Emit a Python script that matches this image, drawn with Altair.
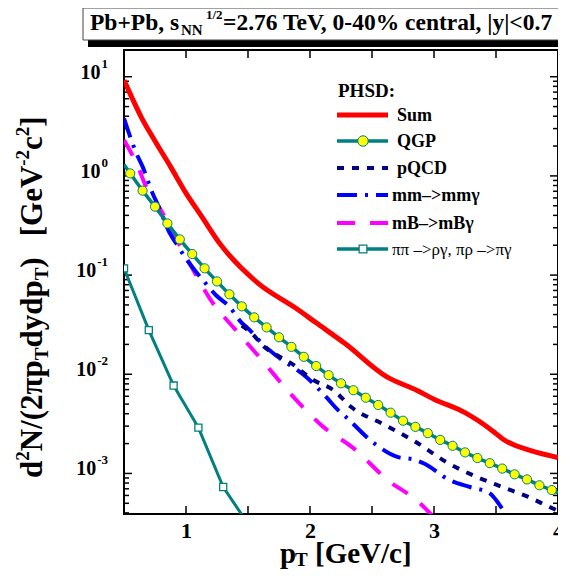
import altair as alt
import pandas as pd

SERIF = "Liberation Serif"
RED = "#ff0000"
TEAL = "#008080"
NAVY = "#000080"
BLUE = "#0000ff"
MAG = "#ff00ff"
YEL = "#ffff00"

# ---------------- data ----------------
sum_x = [0.5, 0.56, 0.64, 0.745, 0.875, 1.0, 1.13, 1.27, 1.58, 1.89, 2.05, 2.28,
         2.62, 2.86, 3.0, 3.25, 3.47, 3.56, 3.78, 4.0]
sum_y = [9.2, 6.3, 3.9, 2.3, 1.24, 0.67, 0.384, 0.21, 0.083, 0.046, 0.033, 0.0205,
         0.0094, 0.0069, 0.0056, 0.0041, 0.0027, 0.0022, 0.0017, 0.00145]

qgp_x = [0.5, 0.55, 0.65, 0.75, 0.85, 0.95, 1.05, 1.15, 1.25, 1.35, 1.45, 1.55, 1.65,
         1.75, 1.85, 1.95, 2.05, 2.15, 2.25, 2.35, 2.45, 2.55, 2.65, 2.75, 2.85, 2.95,
         3.05, 3.15, 3.25, 3.35, 3.45, 3.55, 3.65, 3.75, 3.85, 3.95, 4.0]
qgp_y = [1.3, 1.06, 0.71, 0.49, 0.332, 0.229, 0.163, 0.117, 0.0863, 0.064, 0.0484,
         0.0375, 0.0297, 0.0236, 0.0189, 0.015, 0.0121, 0.0098, 0.0081, 0.0069, 0.0058,
         0.0049, 0.0041, 0.0034, 0.00295, 0.00255, 0.00218, 0.0019, 0.00163, 0.00143,
         0.00127, 0.00112, 0.00098, 0.00087, 0.00076, 0.00068, 0.00064]

pqcd_x = [1.45, 1.53, 1.63, 1.76, 1.84, 2.03, 2.19, 2.33, 2.6, 2.86, 3.1, 3.33, 3.55,
          3.76, 3.93, 4.0]
pqcd_y = [0.031, 0.0259, 0.0189, 0.0149, 0.0131, 0.0087, 0.0069, 0.0047, 0.0031,
          0.00205, 0.0013, 0.00094, 0.00073, 0.00058, 0.00046, 0.00042]

mm_x = [0.5, 0.6, 0.65, 0.73, 0.78, 0.87, 0.93, 0.99, 1.08, 1.16, 1.24, 1.35, 1.44,
        1.5, 1.63, 1.74, 1.97, 2.13, 2.23, 2.29, 2.52, 2.71, 2.84, 2.92, 3.13, 3.29,
        3.45, 3.52, 3.57, 3.62]
mm_y = [3.8, 1.69, 1.24, 0.67, 0.49, 0.263, 0.2, 0.153, 0.108, 0.082, 0.063, 0.048,
        0.034, 0.029, 0.0195, 0.015, 0.0094, 0.0059, 0.0043, 0.0037, 0.0020, 0.00146,
        0.00138, 0.00126, 0.00085, 0.00073, 0.00063, 0.0005, 0.0004, 0.0003]

mb_x = [0.5, 0.6, 0.71, 0.76, 1.02, 1.2, 1.4, 1.6, 1.84, 2.1, 2.36, 2.62, 2.88, 3.0]
mb_y = [2.3, 1.34, 0.64, 0.53, 0.137, 0.056, 0.028, 0.0145, 0.0064, 0.0030, 0.00176,
        0.00087, 0.00051, 0.00036]

pipi_x = [0.5, 0.7, 0.9, 1.1, 1.3, 1.5]
pipi_y = [0.117, 0.0279, 0.0077, 0.0029, 0.00073, 0.00031]

x_tick_labels = [1, 2, 3, 4]
x_ticks = [1, 1.5, 2, 2.5, 3, 3.5]
y_decades = [10, 1, 0.1, 0.01, 0.001]
y_exponents = ["1", "0", "-1", "-2", "-3"]

legend_labels = ["Sum", "QGP", "pQCD", "mm\u2013>mm\u03b3", "mB\u2013>mB\u03b3",
                 "\u03c0\u03c0 \u2013>\u03c1\u03b3, \u03c0\u03c1 \u2013>\u03c0\u03b3"]

# ---------------- geometry ----------------
W, H = 434, 464
YMIN, YMAX = 3.9e-4, 18.6

xscale = alt.Scale(domain=[0.5, 4.0], nice=False, zero=False)
yscale = alt.Scale(type="log", domain=[YMIN, YMAX], nice=False)
xaxis = alt.Axis(values=x_tick_labels, format="d", labelFont=SERIF, labelFontWeight="bold",
                 labelFontSize=22, labelColor="black", labelPadding=6, labelFlush=False,
                 ticks=False, tickSize=0, domain=False, grid=False, title=None)


def X():
    return alt.X("x:Q", scale=xscale, axis=xaxis)


def Y():
    return alt.Y("y:Q", scale=yscale, axis=None)


def df(xs, ys):
    return pd.DataFrame({"x": xs, "y": ys})


def one():
    return pd.DataFrame({"k": [0]})


def txt(s, x, y, size, weight="bold", align="left", baseline="alphabetic", angle=0):
    return alt.Chart(one()).mark_text(
        text=s, font=SERIF, fontSize=size, fontWeight=weight, align=align,
        baseline=baseline, angle=angle, color="black"
    ).encode(x=alt.value(x), y=alt.value(y))


def hrule(x1, x2, y, color, width, dash=None):
    kw = dict(color=color, strokeWidth=width)
    if dash:
        kw["strokeDash"] = dash
    return alt.Chart(one()).mark_rule(**kw).encode(
        x=alt.value(x1), x2=alt.value(x2), y=alt.value(y))


def line(xs, ys, color, width, dash=None, interp="monotone"):
    kw = dict(color=color, strokeWidth=width, clip=True, interpolate=interp)
    if dash:
        kw["strokeDash"] = dash
    return alt.Chart(df(xs, ys)).mark_line(**kw).encode(x=X(), y=Y(), order="x:Q")


layers = []

# ---- ticks (inside) ----
minor = []
for e in range(-4, 2):
    for k in range(2, 10):
        v = k * 10.0 ** e
        if YMIN < v < YMAX:
            minor.append(v)
ydf_maj = pd.DataFrame({"y": y_decades})
ydf_min = pd.DataFrame({"y": minor})
for d, ln in ((ydf_maj, 8), (ydf_min, 5)):
    layers.append(alt.Chart(d).mark_rule(color="black", strokeWidth=1.5).encode(
        y=Y(), x=alt.value(0), x2=alt.value(ln)))
    layers.append(alt.Chart(d).mark_rule(color="black", strokeWidth=1.5).encode(
        y=Y(), x=alt.value(W), x2=alt.value(W - ln)))
xdf = pd.DataFrame({"x": x_ticks})
layers.append(alt.Chart(xdf).mark_rule(color="black", strokeWidth=1.5).encode(
    x=X(), y=alt.value(H), y2=alt.value(H - 8)))
layers.append(alt.Chart(xdf).mark_rule(color="black", strokeWidth=1.5).encode(
    x=X(), y=alt.value(0), y2=alt.value(8)))

# ---- curves ----
layers.append(line(pipi_x, pipi_y, TEAL, 3, interp="linear"))
layers.append(line(mb_x, mb_y, MAG, 4, [18, 16]))
layers.append(line(mm_x, mm_y, BLUE, 4, [20, 8, 3, 8]))
layers.append(line(pqcd_x, pqcd_y, NAVY, 4, [7, 8]))
layers.append(line(qgp_x, qgp_y, TEAL, 3.5))
layers.append(alt.Chart(df(qgp_x[1:-1], qgp_y[1:-1])).mark_point(
    shape="circle", filled=True, fill=YEL, stroke=TEAL, strokeWidth=1, size=85,
    opacity=1, fillOpacity=1, clip=True).encode(x=X(), y=Y()))
layers.append(alt.Chart(df(pipi_x, pipi_y)).mark_point(
    shape="square", filled=True, fill="white", stroke=TEAL, strokeWidth=1.3, size=50,
    opacity=1, fillOpacity=1, clip=True).encode(x=X(), y=Y()))
layers.append(line(sum_x, sum_y, RED, 5))

# ---- y tick labels (10^n) ----
for v, ex in zip(y_decades, y_exponents):
    ew = (0.5 * len(ex.replace("-", "")) + 0.333 * ex.count("-")) * 13
    d = pd.DataFrame({"y": [v]})
    layers.append(alt.Chart(d).mark_text(text="10", font=SERIF, fontSize=20, fontWeight="bold",
                                         align="right", baseline="alphabetic", dy=2,
                                         color="black").encode(y=Y(), x=alt.value(-17 - ew)))
    layers.append(alt.Chart(d).mark_text(text=ex, font=SERIF, fontSize=13, fontWeight="bold",
                                         align="left", baseline="alphabetic", dy=-9,
                                         color="black").encode(y=Y(), x=alt.value(-16 - ew)))

# ---- legend ----
LX1, LX2 = 213, 264
rows = [65, 91, 118, 145, 173, 199]
layers.append(txt("PHSD:", 214, 47, 19))
layers.append(hrule(LX1, LX2, rows[0], RED, 5))
layers.append(hrule(LX1, LX2, rows[1], TEAL, 3.5))
layers.append(alt.Chart(one()).mark_point(shape="circle", filled=True, fill=YEL, stroke=TEAL,
                                          strokeWidth=1, size=110, opacity=1).encode(
    x=alt.value(239), y=alt.value(rows[1])))
layers.append(hrule(LX1, LX2, rows[2], NAVY, 4, [7, 8]))
layers.append(hrule(LX1, LX2, rows[3], BLUE, 4, [20, 8, 3, 8]))
layers.append(hrule(LX1, LX2, rows[4], MAG, 4, [18, 15]))
layers.append(hrule(LX1, LX2, rows[5], TEAL, 3.5))
layers.append(alt.Chart(one()).mark_point(shape="square", filled=True, fill="white", stroke=TEAL,
                                          strokeWidth=1.3, size=60, opacity=1).encode(
    x=alt.value(239), y=alt.value(rows[5])))
for i, lab in enumerate(legend_labels):
    lx = 273 if i < 3 else 268
    if i < 5:
        layers.append(txt(lab, lx, rows[i] + 1, 18, baseline="middle"))
    else:
        layers.append(txt(lab, lx, rows[i] + 1, 17, weight="normal", baseline="middle"))

# ---- title box ----
layers.append(alt.Chart(one()).mark_rect(fill="black").encode(
    x=alt.value(-36), x2=alt.value(470), y=alt.value(-10), y2=alt.value(-3)))
layers.append(alt.Chart(one()).mark_rect(fill="white", stroke="#444444", strokeWidth=1).encode(
    x=alt.value(-41), x2=alt.value(470), y=alt.value(-42), y2=alt.value(-10)))
layers.append(txt("Pb+Pb, s", -34, -20, 23.5))
layers.append(txt("NN", 57, -15, 15))
layers.append(txt("1/2", 82, -31, 13))
layers.append(txt("=2.76 TeV, 0-40% central, |y|<0.7", 99, -20, 23.5))

# ---- x title ----
layers.append(txt("p", 156, 513, 29))
layers.append(txt("T", 171, 516, 19))
layers.append(txt("[GeV/c]", 191, 513, 29))

# ---- y title (rotated, pieces with sub/superscripts) ----
WID = {"d": .556, "N": .722, "/": .278, "(": .333, ")": .333, "2": .5, "\u03c0": .549,
       "p": .556, "y": .5, "[": .333, "]": .333, "G": .778, "e": .444, "V": .722,
       "-": .333, "c": .444, "T": .667}
F, f = 31, 19
BASE = -82
pieces = [("d", F, 0), ("2", f, 1), ("N/(2\u03c0p", F, 0), ("T", f, -1), ("dydp", F, 0),
          ("T", f, -1), (")", F, 0), (None, 21, 0), ("[GeV", F, 0), ("-2", f, 1),
          ("c", F, 0), ("2", f, 1), ("]", F, 0)]
pos = 428.0
for s, size, sh in pieces:
    if s is None:
        pos -= size
        continue
    xb = BASE - 13 if sh == 1 else (BASE + 6 if sh == -1 else BASE)
    layers.append(txt(s, xb, pos, size, angle=270))
    pos -= sum(WID.get(ch, .5) for ch in s) * size

chart = alt.layer(*layers).properties(
    width=W, height=H,
    padding={"left": 116, "top": 42, "right": 0, "bottom": 56},
    autosize=alt.AutoSizeParams(type="none"),
    background="white",
).configure_view(stroke="black", strokeWidth=2)

chart.save("out.html", embed_options={"renderer": "svg", "actions": False})
